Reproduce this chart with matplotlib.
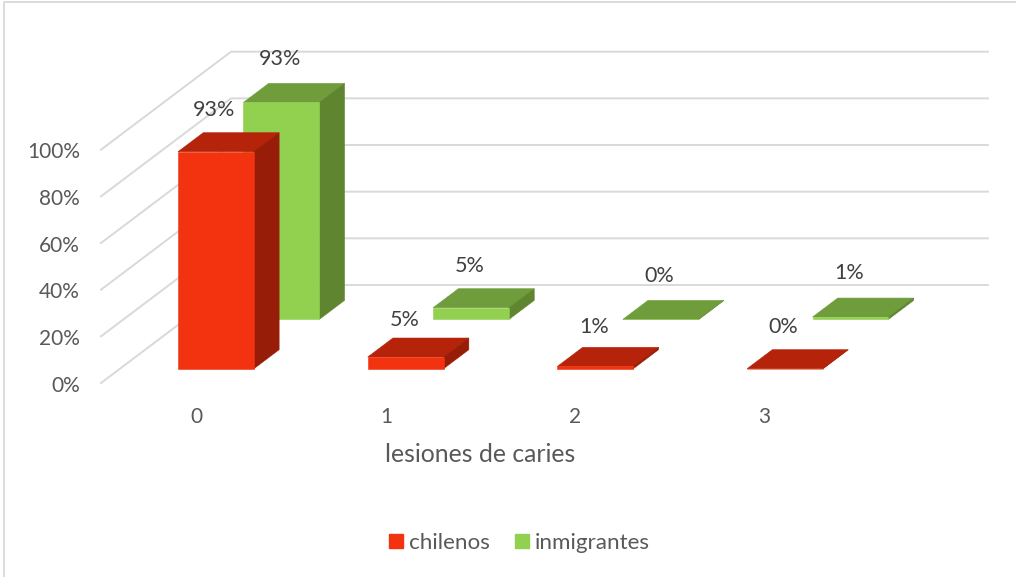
# caries lesions, oblique 3D-look columns drawn on a plain axes
import numpy as np
import matplotlib
matplotlib.use("Agg")
import matplotlib.pyplot as plt
import matplotlib.patches as mpatches
from matplotlib.lines import Line2D
from matplotlib.patches import Polygon

plt.rcParams["font.family"] = ["Lato", "DejaVu Sans"]

# -----------------------------------------------------------------------------
# Data
# -----------------------------------------------------------------------------
categories = ["0", "1", "2", "3"]
chilenos = [0.93, 0.05, 0.01, 0.00]
inmigrantes = [0.93, 0.05, 0.00, 0.01]
y_ticks = [0.0, 0.2, 0.4, 0.6, 0.8, 1.0]
x_title = "lesiones de caries"

# -----------------------------------------------------------------------------
# Projection: x in category units, v in value units, d = depth (0 front, 1 back)
# -----------------------------------------------------------------------------
W, H = 1016, 577
PX_CAT = 189.7     # pixels per category
PX_VAL = 233.3     # pixels per 100%
X0, Y0 = 101, 383  # front corner of the floor, in pixels
DEPTH_X = 130 / PX_CAT
DEPTH_Y = 98 / PX_VAL

BAR_X = 0.306
BAR_W = 0.40
BAR_D = 0.194

def proj(x, v, d=0.0):
    return x + d * DEPTH_X, v + d * DEPTH_Y

fig = plt.figure(figsize=(W / 100, H / 100), dpi=100)
ax = fig.add_axes([0, 0, 1, 1])
ax.set_xlim(-X0 / PX_CAT, (W - X0) / PX_CAT)
ax.set_ylim((Y0 - H) / PX_VAL, Y0 / PX_VAL)
ax.axis("off")

# chart area border, only left and top fall inside the crop
GRID = "#d9d9d9"
fig.add_artist(Line2D([4.3 / W, 4.3 / W, 1], [0, 1 - 2.3 / H, 1 - 2.3 / H],
                      color=GRID, lw=1.3))

# -----------------------------------------------------------------------------
# Walls
# -----------------------------------------------------------------------------
n = len(categories)
for t in y_ticks:
    xs, ys = zip(proj(0, t, 0), proj(0, t, 1), proj(n - 0.01, t, 1))
    ax.plot(xs, ys, color=GRID, lw=1.4, zorder=1, solid_joinstyle="miter")
    ax.annotate(f"{t:.0%}", xy=proj(0, t, 0), xytext=(-21, -2.5),
                textcoords="offset pixels", ha="right", va="center",
                fontsize=15, color="#595959")

# -----------------------------------------------------------------------------
# Bars
# -----------------------------------------------------------------------------
def bar3d(x, v, d, face, top, side, z):
    x1 = x + BAR_W
    d1 = d + BAR_D
    ax.add_patch(Polygon([proj(x, v, d), proj(x1, v, d), proj(x1, v, d1), proj(x, v, d1)],
                         fc=top, ec=top, lw=0.4, zorder=z))
    ax.add_patch(Polygon([proj(x1, 0, d), proj(x1, v, d), proj(x1, v, d1), proj(x1, 0, d1)],
                         fc=side, ec=side, lw=0.4, zorder=z))
    ax.add_patch(Polygon([proj(x, 0, d), proj(x1, 0, d), proj(x1, v, d), proj(x, v, d)],
                         fc=face, ec=face, lw=0.4, zorder=z + 0.1))

# label heights above the bar, moved by hand in the original
series = [
    (inmigrantes, 0.649, "#92d050", "#6f9d3c", "#5f8530", 2, [43, 42, 43, 44]),
    (chilenos,    0.146, "#f33310", "#b5230a", "#971d08", 3, [42, 37, 39, 42]),
]
for values, d, face, top, side, z, label_dy in series:
    for i, v in enumerate(values):
        bar3d(i + BAR_X, v, d, face, top, side, z)
        ax.annotate(f"{v:.0%}", xy=proj(i + BAR_X, v, d),
                    xytext=(36.5, label_dy[i]), textcoords="offset pixels",
                    ha="center", va="center", fontsize=15.5, color="#404040", zorder=5)

# -----------------------------------------------------------------------------
# Category labels, title, legend
# -----------------------------------------------------------------------------
for i, c in enumerate(categories):
    ax.annotate(c, xy=proj(i + 0.5, 0, 0), xytext=(1 - 0.7 * i, -34),
                textcoords="offset pixels", ha="center", va="center",
                fontsize=15, color="#595959")

ax.annotate(x_title, xy=proj(n / 2, 0, 0), xytext=(0, -71),
            textcoords="offset pixels", ha="center", va="center",
            fontsize=17.8, color="#595959")

handles = [mpatches.Patch(color="#f33310", label="chilenos"),
           mpatches.Patch(color="#92d050", label="inmigrantes")]
fig.legend(handles=handles, loc="center", bbox_to_anchor=(519.5 / W, 1 - 543 / H),
           ncol=2, frameon=False, fontsize=16.1, labelcolor="#595959",
           handlelength=0.62, handleheight=0.62, handletextpad=0.27, columnspacing=1.1,
           borderpad=0, borderaxespad=0)

fig.savefig("out.png", dpi=100)
